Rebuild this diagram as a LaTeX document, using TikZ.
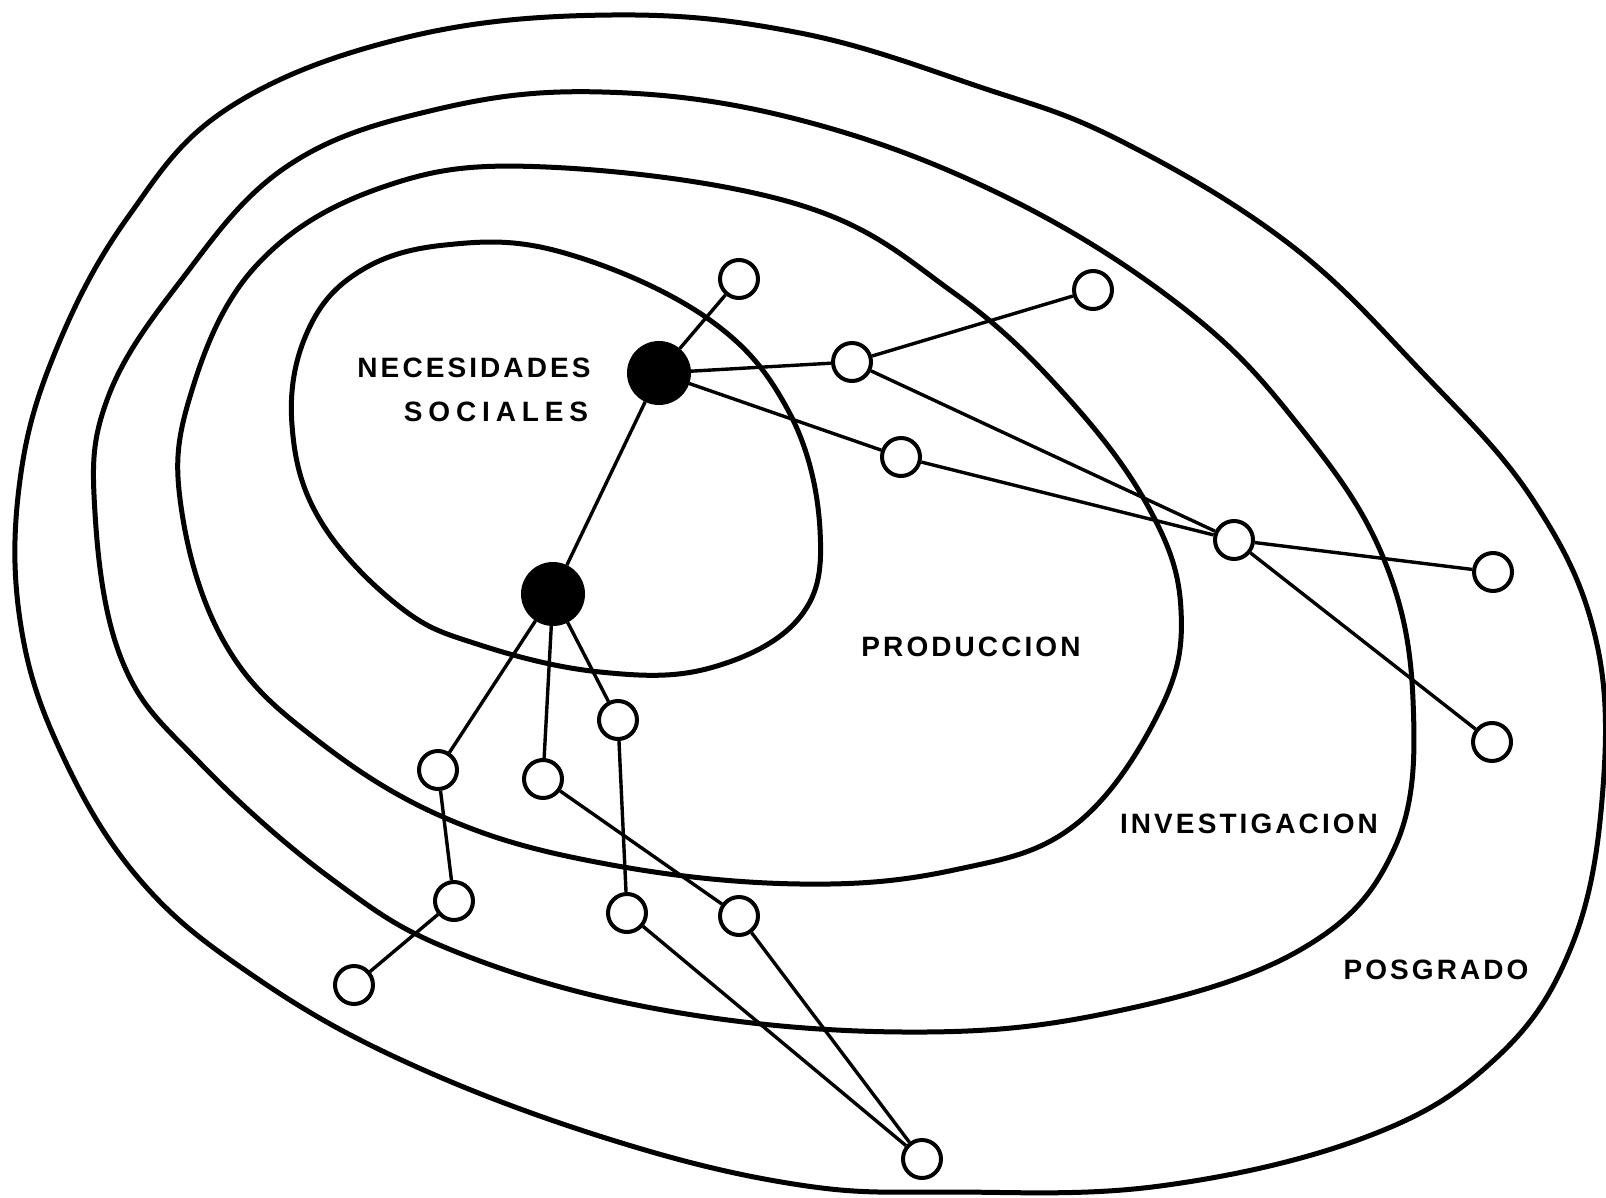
\documentclass[tikz,border=0pt]{standalone}
\usepackage{fontspec}
\newfontfamily\lblfont{Liberation Sans}[LetterSpace=11]
\newfontfamily\lblwide{Liberation Sans}[LetterSpace=21]
\tikzset{
  ring/.style={line width=2.5pt, line join=round},
  conn/.style={line width=1.7pt},
  small/.style={circle, draw, line width=2pt, fill=white, minimum size=19pt, inner sep=0pt},
  big/.style={circle, draw, fill=black, line width=1pt, minimum size=31pt, inner sep=0pt},
  lbl/.style={font=\lblfont\bfseries\fontsize{14pt}{16pt}\selectfont, inner sep=0pt},
  lblw/.style={font=\lblwide\bfseries\fontsize{14pt}{16pt}\selectfont, inner sep=0pt}
}
\begin{document}
\begin{tikzpicture}[x=0.5pt,y=-0.5pt]
\useasboundingbox (0,0) rectangle (1606,1198);
% closed curves
\draw[ring] plot[smooth cycle, tension=0.65] coordinates {
 (292,425) (306,335) (357,273) (445,245) (561,252) (707,318) (789,412) (820,530) (800,617) (710,668) (600,672) (480,645) (400,607) (320,520)};
\draw[ring] plot[smooth cycle, tension=0.65] coordinates {
 (546,167) (800,205) (954,293) (1067,397) (1150,510) (1181,610) (1160,710) (1075,825) (954,870) (800,884) (612,865) (450,820) (317,740) (227,647) (182,513) (189,400) (255,267) (383,187)};
\draw[ring] plot[smooth cycle, tension=0.65] coordinates {
 (602,92) (800,120) (1006,197) (1186,310) (1300,427) (1383,557) (1413,700) (1395,847) (1300,950) (1108,1013) (903,1032) (663,1010) (459,953) (333,880) (200,763) (123,663) (95,513) (107,400) (179,283) (286,167) (434,110)};
\draw[ring] plot[smooth cycle, tension=0.65] coordinates {
 (612,15) (800,33) (980,87) (1119,140) (1288,243) (1420,370) (1533,500) (1596,640) (1602,800) (1570,950) (1494,1060) (1366,1137) (1160,1186) (954,1192) (800,1185) (612,1140) (408,1063) (255,977) (140,880) (60,750) (20,620) (20,480) (56,350) (128,217) (230,107) (408,37)};
% nodes
\node[big] (A) at (659,373) {};
\node[big] (B) at (553,594) {};
\node[small] (n1) at (739,279) {};
\node[small] (n2) at (1093,290) {};
\node[small] (n3) at (852,362) {};
\node[small] (n4) at (901,457) {};
\node[small] (n5) at (1234,540) {};
\node[small] (n6) at (1493,572) {};
\node[small] (n7) at (1492,742) {};
\node[small] (n8) at (618,720) {};
\node[small] (n9) at (438,770) {};
\node[small] (n10) at (543,779) {};
\node[small] (n11) at (454,901) {};
\node[small] (n12) at (354,985) {};
\node[small] (n13) at (627,913) {};
\node[small] (n14) at (739,916) {};
\node[small] (n15) at (922,1159) {};
% connectors
\draw[conn] (A) -- (n1);
\draw[conn] (A) -- (n3);
\draw[conn] (A) -- (n4);
\draw[conn] (A) -- (B);
\draw[conn] (n3) -- (n2);
\draw[conn] (n3) -- (n5);
\draw[conn] (n4) -- (n5);
\draw[conn] (n5) -- (n6);
\draw[conn] (n5) -- (n7);
\draw[conn] (B) -- (n9);
\draw[conn] (B) -- (n10);
\draw[conn] (B) -- (n8);
\draw[conn] (n9) -- (n11);
\draw[conn] (n11) -- (n12);
\draw[conn] (n10) -- (n14);
\draw[conn] (n8) -- (n13);
\draw[conn] (n13) -- (n15);
\draw[conn] (n14) -- (n15);
% labels
\node[lbl] (t1) at (474,368) {NECESIDADES};
\node[lblw] (t2) at (496,412) {SOCIALES};
\node[lbl] (t3) at (971,647) {PRODUCCION};
\node[lbl] (t4) at (1249,824) {INVESTIGACION};
\node[lbl] (t5) at (1436,970) {POSGRADO};
\end{tikzpicture}
\end{document}
